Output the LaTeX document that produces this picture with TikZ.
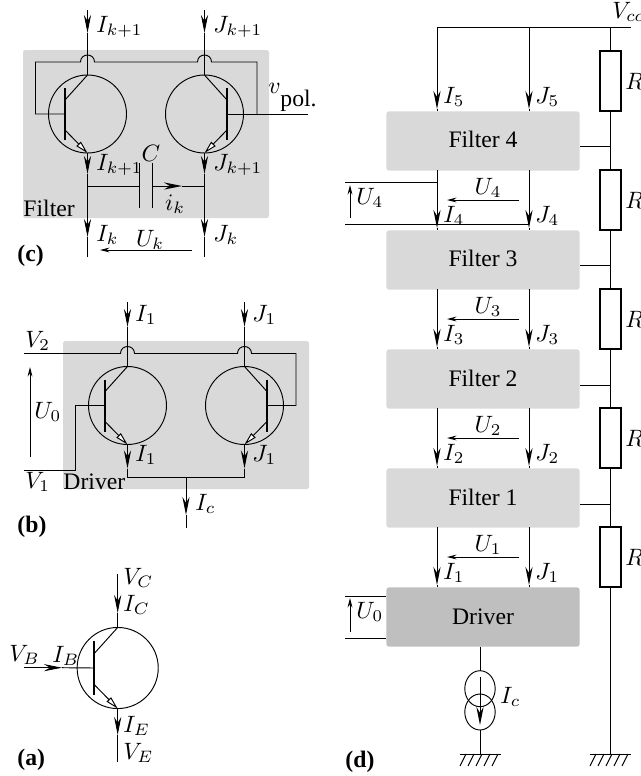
\documentclass[tikz,border=0pt]{standalone}
\usepackage[no-math]{fontspec}
\setmainfont{Liberation Serif}
\usetikzlibrary{calc, arrows.meta, positioning}

\tikzset{
  wire/.style={line width=0.4pt, line join=miter},
  flow/.style={wire, -{Stealth[length=7.6pt, width=3pt]}},
  volt/.style={wire, -{Stealth[length=4pt, width=2pt]}},
  panelbox/.style={fill=black!15, rounded corners=1pt},
  filterbox/.style={panelbox, anchor=north west, minimum width=81.6pt, minimum height=25pt, inner sep=0pt},
  driverbox/.style={filterbox, fill=black!25},
  resbox/.style={draw, line width=0.7pt, fill=white, minimum width=8.9pt, minimum height=25.3pt, inner sep=0pt},
  lab/.style={anchor=west, inner sep=0pt},
  tag/.style={anchor=west, inner sep=0pt, font=\bfseries},
  transistor/.pic={
    \coordinate (-c) at (0,-39);
    \coordinate (-e) at (0,39);
    \coordinate (-b) at (-22.5,0);
    \draw[wire] (0,0) circle (39);
    \draw[line width=0.9pt] (-22.5,-26) -- (-22.5,26);
    \draw[wire] (-c) -- (-22.5,-14);
    \draw[wire, -{Triangle[length=5.4pt, width=2.6pt, fill=white, line width=0.4pt]}] (-22.5,16) -- (-e);
  },
  ground/.pic={
    \draw[wire] (-20.5,0) -- (20.5,0);
    \foreach \hx in {-14,-6,2,10,18}
      \draw[wire] (\hx,0) -- ++(-6,12);
  }
}

\begin{document}
\begin{tikzpicture}[x=0.4226pt, y=-0.4226pt, >=Stealth]
  \useasboundingbox (0,0) rectangle (640,776);

  % --- Panel (c): filter cell ---
  \fill[panelbox] (23,50) rectangle (269,218);
  \pic (qcl) at (87.5,114) {transistor};
  \pic[xscale=-1] (qcr) at (204.5,114) {transistor};

  \coordinate (ctopi) at (87.5,10);
  \coordinate (ctopj) at (204.5,10);
  \coordinate (cboti) at (87.5,257);
  \coordinate (cbotj) at (204.5,257);
  \draw[flow] (ctopi) -- ++(0,23) coordinate (a1);
  \draw[wire] (a1) -- (qcl-c);
  \draw[flow] (ctopj) -- ++(0,23) coordinate (a2);
  \draw[wire] (a2) -- (qcr-c);
  \draw[flow] (qcl-e) -- ++(0,21) coordinate (a3);
  \draw[flow] (a3) -- (87.5,237) coordinate (a4);
  \draw[wire] (a4) -- (cboti);
  \draw[flow] (qcr-e) -- ++(0,21) coordinate (a5);
  \draw[flow] (a5) -- (204.5,237) coordinate (a6);
  \draw[wire] (a6) -- (cbotj);

  % --- Polarisation loop with hops ---
  \draw[wire] (qcl-b) -- (35.5,114) -- (35.5,62) -- (80.5,62)
    .. controls +(0,-9.3) and +(0,-9.3) .. (94.5,62) -- (197.5,62)
    .. controls +(0,-9.3) and +(0,-9.3) .. (211.5,62) -- (257,62) -- (257,114);
  \draw[wire] (qcr-b) -- (308,114);

  % --- Capacitor ---
  \draw[wire] (87.5,186) -- (139.5,186);
  \draw[flow] (152.5,186) -- (182,186);
  \draw[wire] (182,186) -- (204.5,186);
  \draw[wire] (139.5,163) -- (139.5,208);
  \draw[wire] (152.5,163) -- (152.5,208);
  \draw[volt] (192,250) -- (100,250);

  \node[lab] (cik1) at (96,27) {$I_{k+1}$};
  \node[lab] (cjk1) at (213,27) {$J_{k+1}$};
  \node[lab] (cik2) at (96,165) {$I_{k+1}$};
  \node[lab] (cjk2) at (213,165) {$J_{k+1}$};
  \node[lab] (cik) at (96,235) {$I_k$};
  \node[lab] (cjk) at (213,235) {$J_k$};
  \node (cuk) at (150,240) {$U_k$};
  \node (cc) at (151,153) {$C$};
  \node (cic) at (175,204) {$i_k$};
  \node[lab] (cv) at (268,88) {$v$};
  \node[lab] (cpol) at (280,101) {pol.};
  \node[lab] (cfil) at (23,208) {Filter};
  \node[tag] (ctag) at (17,256) {(c)};

  % --- Panel (b): driver cell ---
  \fill[panelbox] (63,341) rectangle (309,489);
  \pic (qbl) at (127.5,405.5) {transistor};
  \pic[xscale=-1] (qbr) at (244.5,405.5) {transistor};

  \coordinate (btopi) at (127.5,302);
  \coordinate (btopj) at (244.5,302);
  \coordinate (bsum) at (186,477);
  \draw[flow] (btopi) -- ++(0,25) coordinate (b1);
  \draw[wire] (b1) -- (qbl-c);
  \draw[flow] (btopj) -- ++(0,25) coordinate (b2);
  \draw[wire] (b2) -- (qbr-c);
  \draw[flow] (qbl-e) -- ++(0,24) coordinate (b3);
  \draw[flow] (qbr-e) -- ++(0,24) coordinate (b4);
  \draw[wire] (b3) -- (127.5,477) -- (244.5,477) -- (b4);
  \draw[flow] (bsum) -- ++(0,38) coordinate (b5);
  \draw[wire] (b5) -- (186,528);

  \draw[wire] (24,353.5) -- (120.5,353.5)
    .. controls +(0,-9.3) and +(0,-9.3) .. (134.5,353.5) -- (237.5,353.5)
    .. controls +(0,-9.3) and +(0,-9.3) .. (251.5,353.5) -- (296,353.5) -- (296,405.5) -- (qbr-b);
  \draw[wire] (qbl-b) -- (75.5,405.5) -- (75.5,470.7) -- (24,470.7);
  \draw[volt] (30,457) -- (30,367);

  \node[lab] (bi1) at (135,315) {$I_1$};
  \node[lab] (bj1) at (252,315) {$J_1$};
  \node[lab] (bi2) at (135,455) {$I_1$};
  \node[lab] (bj2) at (252,455) {$J_1$};
  \node[lab] (bic) at (195,504) {$I_c$};
  \node[lab] (bv2) at (25,341) {$V_2$};
  \node[lab] (bv1) at (25,482) {$V_1$};
  \node[lab] (bu0) at (34,412) {$U_0$};
  \node[lab] (bdrv) at (63,482) {Driver};
  \node[tag] (btag) at (17,527) {(b)};

  % --- Panel (a): single transistor ---
  \pic[scale=1.04] (qa) at (117.7,668) {transistor};
  \draw[flow] (117.7,574) -- (117.7,613) coordinate (a7);
  \draw[wire] (a7) -- (qa-c);
  \draw[flow] (qa-e) -- (117.7,735) coordinate (a8);
  \draw[wire] (a8) -- (117.7,762);
  \draw[flow] (24,667.7) -- (62,667.7) coordinate (a9);
  \draw[wire] (a9) -- (qa-b);

  \node[lab] (avc) at (123,578) {$V_C$};
  \node[lab] (aic) at (123,605) {$I_C$};
  \node[lab] (aie) at (123,726) {$I_E$};
  \node[lab] (ave) at (123,753) {$V_E$};
  \node[lab] (avb) at (9,655) {$V_B$};
  \node[lab] (aib) at (52,656) {$I_B$};
  \node[tag] (atag) at (17,760) {(a)};

  % --- Panel (d): stack of filters ---
  \node[filterbox] (f4) at (386,111) {\raisebox{1.2pt}{Filter 4}};
  \node[filterbox] (f3) at (386,230) {\raisebox{1.2pt}{Filter 3}};
  \node[filterbox] (f2) at (386,349) {\raisebox{0.8pt}{Filter 2}};
  \node[filterbox] (f1) at (386,468) {\raisebox{0.4pt}{Filter 1}};
  \node[driverbox] (drv) at (386,587) {Driver};

  \coordinate (vcci) at (437,27);
  \coordinate (vccj) at (529,27);
  \coordinate (vccr) at (610,27);
  \coordinate (vcce) at (631,27);
  \coordinate (gndr) at (610,754);
  \coordinate (gndc) at (480,754);
  \draw[wire] (vcci) -- (vcce);
  \draw[wire] (vccr) -- (gndr);

  % --- Feeds into each block ---
  \draw[flow] (vcci) -- (437,109) coordinate (i5);
  \draw[wire] (i5) -- (437,111);
  \draw[flow] (vccj) -- (529,109) coordinate (j5);
  \draw[wire] (j5) -- (529,111);
  \foreach \ytop/\ybot/\unum in {170/230/4, 289/349/3, 408/468/2, 527/587/1} {
    \draw[flow] (437,\ytop) -- (437,\ybot-2);
    \draw[wire] (437,\ybot-2) -- (437,\ybot);
    \draw[flow] (529,\ytop) -- (529,\ybot-2);
    \draw[wire] (529,\ybot-2) -- (529,\ybot);
    \draw[volt] (519,\ytop+30) -- (447,\ytop+30);
    \node (u\unum) at (488,\ytop+18) {$U_\unum$};
    \node[lab] (i\unum) at (443,\ybot-14) {$I_\unum$};
    \node[lab] (j\unum) at (535,\ybot-14) {$J_\unum$};
  }
  \node[lab] (i5l) at (443,97) {$I_5$};
  \node[lab] (j5l) at (535,97) {$J_5$};

  % --- Resistors and tap lines ---
  \foreach \ymid/\ytap/\bname in {81/146/f4, 200/265/f3, 319/385/f2, 438/504/f1} {
    \node[resbox] (r\bname) at (610.5,\ymid) {};
    \node[lab] (rl\bname) at (625,\ymid) {$R$};
    \draw[wire] (\bname.east |- 0,\ytap) -- (610,\ytap);
  }
  \node[resbox] (rdrv) at (610.5,557) {};
  \node[lab] (rldrv) at (625,557) {$R$};
  \node[lab] (vcc) at (612,12) {$V_{cc}$};

  % --- Voltage taps ---
  \draw[wire] (345,182) -- (437,182);
  \draw[wire] (345,224) -- (529,224);
  \draw[volt] (350,218) -- (350,185);
  \node[lab] (vu4) at (356,198) {$U_4$};
  \draw[wire] (345,596) -- (drv.west |- 0,596);
  \draw[wire] (345,638) -- (drv.west |- 0,638);
  \draw[volt] (350,632) -- (350,598);
  \node[lab] (vu0) at (356,612) {$U_0$};

  % --- Current source ---
  \draw[wire] (480,646.7) -- (480,670.7);
  \draw[wire] (480,730) -- (gndc);
  \draw[wire] (480,688.7) ellipse (15.2 and 18);
  \draw[wire] (480,712) ellipse (15.2 and 18);
  \draw[flow] (480,677) -- (480,725);
  \node[lab] (dic) at (500,697) {$I_c$};

  \pic at (gndc) {ground};
  \pic at (gndr) {ground};
  \node[tag] (dtag) at (345,762) {(d)};
\end{tikzpicture}
\end{document}
